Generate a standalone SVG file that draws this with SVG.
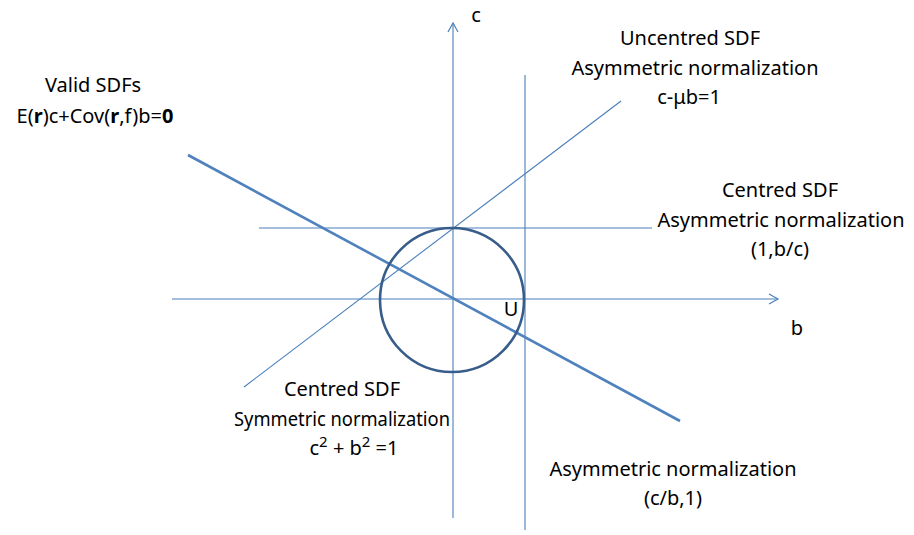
<svg xmlns="http://www.w3.org/2000/svg" width="914" height="535" viewBox="0 0 914 535">
<defs>
<marker id="arr" markerWidth="14" markerHeight="14" refX="10" refY="6" orient="auto" markerUnits="userSpaceOnUse">
<path d="M1,1 L10,6 L1,11" fill="none" stroke="#4a7ebb" stroke-width="1.2"/>
</marker>
</defs>
<style>
.t{font-family:"Noto Sans","Liberation Sans",sans-serif;font-size:20px;fill:#000;text-anchor:middle}
.thin{stroke:#4a7ebb;stroke-width:1.1;fill:none}
</style>
<rect width="914" height="535" fill="#fff"/>
<g id="connectors">
<line class="thin" x1="453" y1="518" x2="453" y2="23" marker-end="url(#arr)"/>
<line class="thin" x1="172" y1="299" x2="778" y2="299" marker-end="url(#arr)"/>
<line class="thin" x1="259" y1="228" x2="652" y2="228"/>
<line class="thin" x1="525" y1="75" x2="525" y2="530"/>
<line class="thin" x1="244" y1="387" x2="621" y2="101"/>
<line x1="188" y1="155" x2="680" y2="421" stroke="#4f81bd" stroke-width="2.6"/>
</g>
<g id="circle">
<circle cx="452" cy="300" r="72" fill="none" stroke="#385d8a" stroke-width="2.6"/>
</g>
<g id="label-valid">
<text class="t" x="93" y="92">Valid SDFs</text>
<text class="t" x="95" y="123">E(<tspan font-weight="bold">r</tspan>)c+Cov(<tspan font-weight="bold">r</tspan>,f)b=<tspan font-weight="bold">0</tspan></text>
</g>
<g id="label-uncentred">
<text class="t" x="690" y="45">Uncentred SDF</text>
<text class="t" x="695" y="75">Asymmetric normalization</text>
<text class="t" x="689" y="104">c-μb=1</text>
</g>
<g id="label-centred-asym">
<text class="t" x="780" y="197">Centred SDF</text>
<text class="t" x="781" y="227">Asymmetric normalization</text>
<text class="t" x="780" y="256">(1,b/c)</text>
</g>
<g id="label-centred-sym">
<text class="t" x="342" y="396">Centred SDF</text>
<text class="t" x="342" y="426" textLength="216" lengthAdjust="spacingAndGlyphs">Symmetric normalization</text>
<text class="t" x="354" y="455">c<tspan font-size="15" dy="-8">2</tspan><tspan dy="8"> + b</tspan><tspan font-size="15" dy="-8">2</tspan><tspan dy="8"> =1</tspan></text>
</g>
<g id="label-asym">
<text class="t" x="673" y="476">Asymmetric normalization</text>
<text class="t" x="673" y="505">(c/b,1)</text>
</g>
<g id="axis-labels">
<text class="t" x="476" y="22">c</text>
<text class="t" x="797" y="335">b</text>
<text class="t" x="511" y="316">U</text>
</g>
</svg>
